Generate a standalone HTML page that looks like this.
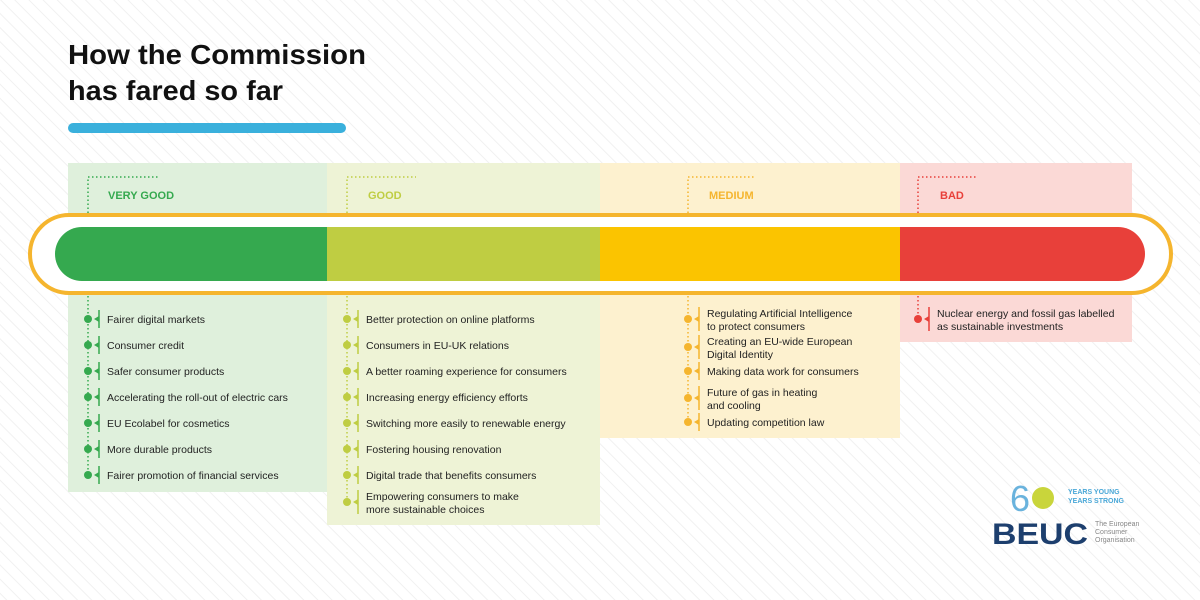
<!DOCTYPE html>
<html><head><meta charset="utf-8"><style>
html,body{margin:0;padding:0;width:1200px;height:600px;overflow:hidden;background:#fff}
svg{display:block}
text{font-family:"Liberation Sans",sans-serif}
.it{font-size:10.5px;fill:#222}
.lb{font-size:11px;font-weight:bold}
</style></head><body>
<svg width="1200" height="600" viewBox="0 0 1200 600" xmlns="http://www.w3.org/2000/svg">
<defs>
<pattern id="st" width="10" height="10" patternUnits="userSpaceOnUse" patternTransform="rotate(-45)">
<rect width="10" height="10" fill="#fff"/><rect width="1" height="10" fill="#f1f1f1"/>
</pattern>
</defs>
<rect width="1200" height="600" fill="url(#st)"/>
<text x="68" y="64" font-size="28" font-weight="bold" fill="#111" textLength="298" lengthAdjust="spacingAndGlyphs">How the Commission</text>
<text x="68" y="100" font-size="28" font-weight="bold" fill="#111" textLength="215" lengthAdjust="spacingAndGlyphs">has fared so far</text>
<rect x="68" y="123" width="278" height="10" rx="5" fill="#3ab0dc"/>

<rect x="68" y="163" width="259" height="329" fill="#dff0dc"/>
<rect x="327" y="163" width="273" height="362" fill="#eef3d6"/>
<rect x="600" y="163" width="300" height="275" fill="#fdf1cf"/>
<rect x="900" y="163" width="232" height="179" fill="#fbd9d6"/>

<rect x="30" y="215" width="1141" height="78" rx="39" fill="#fff" stroke="#f5b52e" stroke-width="4"/>
<clipPath id="bc"><rect x="55" y="227" width="1090" height="54" rx="27"/></clipPath>
<g clip-path="url(#bc)">
<rect x="55" y="227" width="272" height="54" fill="#35a94f"/>
<rect x="327" y="227" width="273" height="54" fill="#bfcd42"/>
<rect x="600" y="227" width="300" height="54" fill="#fbc400"/>
<rect x="900" y="227" width="245" height="54" fill="#e8403a"/>
</g>

<g fill="none" stroke-width="1.5" stroke-dasharray="1.5 2.5">
<path d="M88 213V177H160" stroke="#35a94f"/>
<path d="M88 296V475" stroke="#35a94f"/>
<path d="M347 213V177H416" stroke="#bfcd42"/>
<path d="M347 296V502" stroke="#bfcd42"/>
<path d="M688 213V177H756" stroke="#f5b52e"/>
<path d="M688 296V422" stroke="#f5b52e"/>
<path d="M918 213V177H978" stroke="#e8403a"/>
<path d="M918 296V319" stroke="#e8403a"/>
</g>
<text class="lb" x="108" y="199" fill="#35a94f">VERY GOOD</text>
<text class="lb" x="368" y="199" fill="#bfcd42">GOOD</text>
<text class="lb" x="709" y="199" fill="#f5b52e">MEDIUM</text>
<text class="lb" x="940" y="199" fill="#e8403a">BAD</text>

<g id="items"></g>
<g font-family="Liberation Sans">
<text x="1010" y="511" font-size="36" fill="#6ab3dd">6</text>
<circle cx="1043" cy="498" r="11" fill="#c9d53b"/>
<text x="1068" y="494" font-size="7" font-weight="bold" fill="#4aa8d8">YEARS YOUNG</text>
<text x="1068" y="503" font-size="7" font-weight="bold" fill="#4aa8d8">YEARS STRONG</text>
<text x="992" y="544" font-size="30" font-weight="bold" fill="#1d3f6e" textLength="96" lengthAdjust="spacingAndGlyphs">BEUC</text>
<text x="1095" y="526" font-size="7" fill="#888">The European</text>
<text x="1095" y="534" font-size="7" fill="#888">Consumer</text>
<text x="1095" y="542" font-size="7" fill="#888">Organisation</text>
</g>
</svg>
<script>
const data=[
[88,"#35a94f",[[319,["Fairer digital markets"]],[345,["Consumer credit"]],[371,["Safer consumer products"]],[397,["Accelerating the roll-out of electric cars"]],[423,["EU Ecolabel for cosmetics"]],[449,["More durable products"]],[475,["Fairer promotion of financial services"]]]],
[347,"#bfcd42",[[319,["Better protection on online platforms"]],[345,["Consumers in EU-UK relations"]],[371,["A better roaming experience for consumers"]],[397,["Increasing energy efficiency efforts"]],[423,["Switching more easily to renewable energy"]],[449,["Fostering housing renovation"]],[475,["Digital trade that benefits consumers"]],[502,["Empowering consumers to make","more sustainable choices"]]]],
[688,"#f5b52e",[[319,["Regulating Artificial Intelligence","to protect consumers"]],[347,["Creating an EU-wide European","Digital Identity"]],[371,["Making data work for consumers"]],[398,["Future of gas in heating","and cooling"]],[422,["Updating competition law"]]]],
[918,"#e8403a",[[319,["Nuclear energy and fossil gas labelled","as sustainable investments"]]]]
];
let s="";
for(const [x,c,items] of data){for(const [y,l] of items){
const h=l.length>1?12:9;
s+=`<circle cx="${x}" cy="${y}" r="4" fill="${c}"/>`;
s+=`<path d="M${x+11} ${y-h}V${y+h}" stroke="${c}" stroke-width="1.5"/>`;
s+=`<path d="M${x+11} ${y-3}L${x+6} ${y}L${x+11} ${y+3}Z" fill="${c}"/>`;
if(l.length==1)s+=`<text class="it" x="${x+19}" y="${y+4}">${l[0]}</text>`;
else{s+=`<text class="it" x="${x+19}" y="${y-2}">${l[0]}</text><text class="it" x="${x+19}" y="${y+11}">${l[1]}</text>`;}
}}
document.getElementById("items").innerHTML=s;
</script>
</body></html>
